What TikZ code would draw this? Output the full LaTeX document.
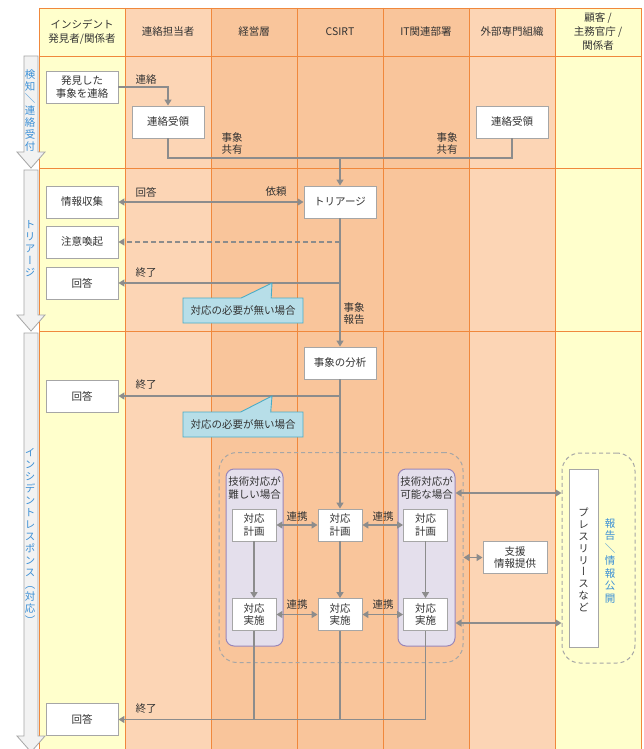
\documentclass[tikz,border=0pt]{standalone}
\usepackage{fontspec}
\setmainfont{Noto Sans CJK JP}
\newfontfamily\vertfont[RawFeature=+vert]{Noto Sans CJK JP}
\usepackage{xcolor}
\usepackage{tikz}
\usetikzlibrary{arrows.meta, positioning, shapes.callouts}
\definecolor{lineorange}{HTML}{F0883C}
\definecolor{laneyellow}{HTML}{FFFFCC}
\definecolor{lanelight}{HTML}{FCD5B5}
\definecolor{lanemid}{HTML}{F9C59B}
\definecolor{flowgray}{HTML}{8C8C8C}
\definecolor{boxgray}{HTML}{A6A6A6}
\definecolor{casefill}{HTML}{E4DFEC}
\definecolor{caseline}{HTML}{9A86B8}
\definecolor{notefill}{HTML}{B7DEE8}
\definecolor{noteline}{HTML}{4BACC6}
\definecolor{phaseblue}{HTML}{3A8FD6}
\definecolor{phasefill}{HTML}{F2F2F2}
\definecolor{textdark}{HTML}{333333}
\newcommand{\phasearrow}[2]{\draw[phaseshape] (24,#1) -- (38,#1) -- (38,#2) -- (45,#2) -- (31,#2+16) -- (17,#2) -- (24,#2) -- cycle;}

\begin{document}
\begin{tikzpicture}[x=1pt, y=-1pt,
  font=\fontsize{10.5}{12.5}\selectfont,
  lane/.style={lineorange, line width=0.8pt},
  taskbox/.style={draw=boxgray, fill=white, line width=0.9pt, align=center, inner sep=1pt,
    minimum width=72pt, minimum height=32pt, text=textdark},
  smallbox/.style={taskbox, minimum width=44pt},
  flow/.style={draw=flowgray, line width=1.8pt, -{Triangle[length=6pt,width=7pt]}},
  flowboth/.style={flow, {Triangle[length=6pt,width=7pt]}-{Triangle[length=6pt,width=7pt]}},
  flowline/.style={draw=flowgray, line width=1.8pt},
  flowlabel/.style={inner sep=0pt, align=left, text=textdark},
  notebox/.style={rectangle callout, draw=noteline, fill=notefill, line width=0.9pt,
    minimum width=120pt, minimum height=25pt, inner sep=1pt, callout pointer width=30pt, text=textdark},
  casebox/.style={draw=caseline, fill=casefill, line width=1pt, rounded corners=8pt,
    minimum width=57pt, minimum height=177pt},
  groupbox/.style={draw=boxgray, line width=1pt, dash pattern=on 4pt off 3pt, rounded corners=18pt},
  phaseshape/.style={draw=boxgray, fill=phasefill, line width=0.8pt},
  phaselabel/.style={align=center, inner sep=0pt, text=phaseblue, font=\vertfont\fontsize{10.5}{12}\selectfont},
  vtext/.style={align=center, inner sep=0pt, text=textdark, font=\vertfont\fontsize{10.5}{11.8}\selectfont},
  headtext/.style={align=center, inner sep=0pt, text=textdark, font=\fontsize{10.5}{14}\selectfont},
]
\useasboundingbox (0,0) rectangle (643,749);
\fill[white] (0,0) rectangle (643,749);

% swimlanes
\foreach \x/\c in {39/laneyellow,125/lanelight,211/lanemid,297/lanemid,383/lanemid,469/lanelight,555/laneyellow}
  \fill[\c] (\x,8) rectangle ++(86,741);
\foreach \x in {39,125,...,641}
  \draw[lane] (\x,8) -- (\x,749);
\foreach \y in {8,56,168,331}
  \draw[lane] (39,\y) -- (641,\y);

% header
\node[headtext] (h1) at (82,32) {インシデント\\発見者/関係者};
\node[headtext] (h2) at (168,32) {連絡担当者};
\node[headtext] (h3) at (254,32) {経営層};
\node[headtext] (h4) at (340,32) {CSIRT};
\node[headtext] (h5) at (426,32) {IT関連部署};
\node[headtext] (h6) at (512,32) {外部専門組織};
\node[headtext] (h7) at (598,32) {顧客 /\\主務官庁 /\\関係者};

% phases
\phasearrow{56}{152}
\phasearrow{170}{315}
\phasearrow{333}{736}
\node[phaselabel] (ph1) at (30,111) {検\\知\\＼\\連\\絡\\受\\付};
\node[phaselabel] (ph2) at (30,249) {ト\\リ\\ア\\ー\\ジ};
\node[phaselabel] (ph3) at (30,536) {イ\\ン\\シ\\デ\\ン\\ト\\レ\\ス\\ポ\\ン\\ス\\（\\対\\応\\）};

% detection
\node[taskbox] (report) at (82,87) {発見した\\事象を連絡};
\node[taskbox] (rcv1) at (168,122) {連絡受領};
\node[taskbox] (rcv2) at (512,122) {連絡受領};
\coordinate (share) at (340,158);
\draw[flow] (report.east) -| (rcv1.north);
\node[flowlabel] (lcontact) at (146,79.5) {連絡};
\draw[flowline] (rcv1.south) |- (share) -| (rcv2.south);
\node[flowlabel] (lshare1) at (232,143.5) {事象\\共有};
\node[flowlabel] (lshare2) at (447,143.5) {事象\\共有};

% triage
\node[taskbox] (triage) at (340,202) {トリアージ};
\node[taskbox] (info) at (82,202) {情報収集};
\node[taskbox] (alert) at (82,242) {注意喚起};
\node[taskbox] (ans1) at (82,283) {回答};
\draw[flow] (share) -- (triage.north);
\draw[flowboth] (info.east) -- (triage.west);
\node[flowlabel] (lans) at (146,192) {回答};
\node[flowlabel] (lreq) at (276,192) {依頼};
\draw[flow, dash pattern=on 5pt off 3pt] (triage.south |- alert.east) -- (alert.east);
\draw[flow] (triage.south) |- (ans1.east);
\node[flowlabel] (lend1) at (146,272.5) {終了};
\node[notebox, callout absolute pointer={(272,283)}] (note1) at (243,310.5) {対応の必要が無い場合};
\node[flowlabel] (lreport) at (354,313.5) {事象\\報告};

% response
\node[taskbox] (analysis) at (340,363) {事象の分析};
\node[taskbox] (ans2) at (82,396) {回答};
\draw[flow] (triage.south) -- (analysis.north);
\draw[flow] (analysis.south) |- (ans2.east);
\node[flowlabel] (lend2) at (146,385) {終了};
\node[notebox, callout absolute pointer={(272,396)}] (note2) at (243,424.5) {対応の必要が無い場合};

\node[groupbox, minimum width=244pt, minimum height=210pt] (techgrp) at (341,557.5) {};
\node[casebox] (hardbox) at (254.5,557.5) {};
\node[casebox] (easybox) at (426.5,557.5) {};
\node[flowlabel, align=center] (lhard) at (254.5,488) {技術対応が\\難しい場合};
\node[flowlabel, align=center] (leasy) at (426.5,488) {技術対応が\\可能な場合};

\node[smallbox] (planL) at (254,525) {対応\\計画};
\node[smallbox] (planC) at (340,525) {対応\\計画};
\node[smallbox] (planR) at (425.5,525) {対応\\計画};
\node[smallbox] (doL) at (254,614.5) {対応\\実施};
\node[smallbox] (doC) at (340,614.5) {対応\\実施};
\node[smallbox] (doR) at (425.5,614.5) {対応\\実施};

\draw[flow] (analysis.south) -- (planC.north);
\draw[flowboth] (planL.east) -- (planC.west);
\draw[flowboth] (planC.east) -- (planR.west);
\draw[flowboth] (doL.east) -- (doC.west);
\draw[flowboth] (doC.east) -- (doR.west);
\node[flowlabel] (llink1) at (297,517) {連携};
\node[flowlabel] (llink2) at (383,517) {連携};
\node[flowlabel] (llink3) at (297,605) {連携};
\node[flowlabel] (llink4) at (383,605) {連携};
\draw[flow] (planL.south) -- (doL.north);
\draw[flow] (planC.south) -- (doC.north);
\draw[flow] (planR.south) -- (doR.north);

\node[taskbox] (ans3) at (82,719.5) {回答};
\draw[flowline] (doL.south) -- (doL.south |- ans3.east);
\draw[flowline] (doC.south) -- (doC.south |- ans3.east);
\draw[flow] (doR.south) |- (ans3.east);
\node[flowlabel] (lend3) at (146,709) {終了};

% outside
\node[taskbox, minimum width=64pt] (support) at (515,557.5) {支援\\情報提供};
\node[groupbox, minimum width=73pt, minimum height=210pt] (pressgrp) at (598.5,558) {};
\node[taskbox, minimum width=29pt, minimum height=178pt] (press) at (583.5,558) {};
\node[vtext] (presstxt) at (583.5,560) {プ\\レ\\ス\\リ\\リ\\ー\\ス\\な\\ど};
\node[phaselabel, font=\vertfont\fontsize{10.5}{12.5}\selectfont] (publish) at (610,561) {報\\告\\＼\\情\\報\\公\\開};
\draw[flowboth] ([yshift=64.5pt]easybox.east) -- ([yshift=64.5pt]easybox.east -| pressgrp.west);
\draw[flowboth] ([yshift=-65.5pt]easybox.east) -- ([yshift=-65.5pt]easybox.east -| pressgrp.west);
\draw[flowboth] (techgrp.east) -- (support.west);
\end{tikzpicture}
\end{document}
